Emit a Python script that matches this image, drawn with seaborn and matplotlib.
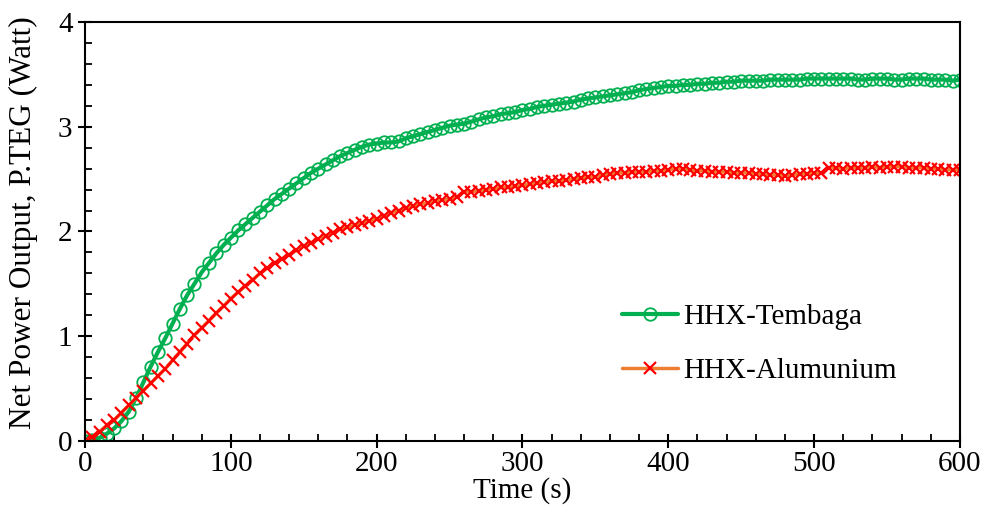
import matplotlib
matplotlib.use("Agg")
import matplotlib.pyplot as plt
import seaborn as sns
import pandas as pd
from matplotlib.ticker import MultipleLocator

# -----------------------------
# data
# -----------------------------
time_s = [
    0, 5, 10, 15, 20, 25, 30, 35, 40, 45, 50, 55, 60, 65, 70, 75, 80, 85, 90, 95,
    100, 105, 110, 115, 120, 125, 130, 135, 140, 145, 150, 155, 160, 165, 170, 175, 180, 185, 190, 195,
    200, 205, 210, 215, 220, 225, 230, 235, 240, 245, 250, 255, 260, 265, 270, 275, 280, 285, 290, 295,
    300, 305, 310, 315, 320, 325, 330, 335, 340, 345, 350, 355, 360, 365, 370, 375, 380, 385, 390, 395,
    400, 405, 410, 415, 420, 425, 430, 435, 440, 445, 450, 455, 460, 465, 470, 475, 480, 485, 490, 495,
    500, 505, 510, 515, 520, 525, 530, 535, 540, 545, 550, 555, 560, 565, 570, 575, 580, 585, 590, 595,
    600,
]

tembaga = [
    0.00, 0.01, 0.03, 0.07, 0.12, 0.19, 0.28, 0.41, 0.56, 0.71, 0.85, 0.98, 1.12, 1.26, 1.39, 1.50, 1.61, 1.70, 1.79, 1.87,
    1.94, 2.01, 2.07, 2.13, 2.19, 2.25, 2.31, 2.36, 2.41, 2.46, 2.51, 2.56, 2.60, 2.64, 2.68, 2.72, 2.75, 2.78, 2.81, 2.83,
    2.84, 2.85, 2.85, 2.86, 2.89, 2.91, 2.93, 2.95, 2.97, 2.99, 3.01, 3.02, 3.03, 3.05, 3.07, 3.09, 3.10, 3.12, 3.13, 3.14,
    3.16, 3.17, 3.19, 3.20, 3.21, 3.22, 3.23, 3.24, 3.26, 3.27, 3.28, 3.29, 3.30, 3.31, 3.32, 3.33, 3.35, 3.36, 3.37, 3.38,
    3.39, 3.39, 3.40, 3.40, 3.41, 3.41, 3.42, 3.42, 3.43, 3.43, 3.44, 3.44, 3.44, 3.44, 3.45, 3.45, 3.45, 3.45, 3.45, 3.46,
    3.46, 3.46, 3.46, 3.46, 3.46, 3.46, 3.45, 3.45, 3.46, 3.46, 3.46, 3.45, 3.45, 3.46, 3.46, 3.46, 3.45, 3.45, 3.45, 3.44,
    3.45,
]

alumunium = [
    0.00, 0.04, 0.09, 0.15, 0.20, 0.27, 0.34, 0.41, 0.48, 0.55, 0.62, 0.69, 0.77, 0.85, 0.93, 1.01, 1.08, 1.15, 1.22, 1.29,
    1.36, 1.42, 1.48, 1.54, 1.60, 1.65, 1.70, 1.74, 1.78, 1.82, 1.86, 1.89, 1.93, 1.96, 1.99, 2.02, 2.04, 2.06, 2.08, 2.10,
    2.12, 2.15, 2.18, 2.20, 2.22, 2.24, 2.26, 2.27, 2.29, 2.30, 2.31, 2.33, 2.38, 2.38, 2.39, 2.40, 2.41, 2.42, 2.42, 2.43,
    2.44, 2.45, 2.46, 2.47, 2.48, 2.48, 2.49, 2.50, 2.51, 2.52, 2.52, 2.54, 2.55, 2.56, 2.56, 2.57, 2.57, 2.57, 2.58, 2.58,
    2.59, 2.60, 2.60, 2.59, 2.58, 2.58, 2.57, 2.57, 2.57, 2.56, 2.56, 2.56, 2.55, 2.55, 2.54, 2.54, 2.53, 2.54, 2.55, 2.55,
    2.56, 2.56, 2.61, 2.61, 2.60, 2.61, 2.61, 2.61, 2.62, 2.61, 2.62, 2.62, 2.62, 2.61, 2.61, 2.61, 2.60, 2.60, 2.59, 2.59,
    2.59,
]

x_ticks = [0, 100, 200, 300, 400, 500, 600]
y_ticks = [0, 1, 2, 3, 4]

df = pd.DataFrame({"Time": time_s, "HHX-Tembaga": tembaga, "HHX-Alumunium": alumunium})

# -----------------------------
# style
# -----------------------------
sns.set_style("ticks")
plt.rcParams["font.family"] = ["Liberation Serif", "DejaVu Serif"]
plt.rcParams["font.size"] = 21
plt.rcParams["text.color"] = "black"
plt.rcParams["axes.labelcolor"] = "black"
plt.rcParams["xtick.color"] = "black"
plt.rcParams["ytick.color"] = "black"

fig = plt.figure(figsize=(9.85, 5.26), dpi=100)
ax = fig.add_axes([0.0863, 0.1616, 0.8883, 0.7966])

sns.lineplot(data=df, x="Time", y="HHX-Tembaga", ax=ax, color="#00B050",
             linewidth=3, marker="o", markersize=9, markerfacecolor="none",
             markeredgecolor="#00B050", markeredgewidth=1.3, label="HHX-Tembaga")
sns.lineplot(data=df, x="Time", y="HHX-Alumunium", ax=ax, color="#ED7D31",
             linewidth=2.5, marker="x", markersize=9, markeredgecolor="#FF0000",
             markeredgewidth=1.6, label="HHX-Alumunium")

ax.set_xlim(0, 600)
ax.set_ylim(0, 4)
ax.set_xticks(x_ticks)
ax.set_yticks(y_ticks)
ax.xaxis.set_minor_locator(MultipleLocator(20))
ax.yaxis.set_minor_locator(MultipleLocator(0.2))
ax.tick_params(which="major", direction="inout", length=10, width=1.5, labelsize=21, pad=4)
ax.tick_params(which="minor", direction="in", length=5, width=1.3)
ax.tick_params(axis="x", which="major", pad=2)

for side in ["left", "bottom", "right", "top"]:
    ax.spines[side].set_visible(True)
    ax.spines[side].set_linewidth(1.5)
    ax.spines[side].set_color("black")

ax.set_xlabel("Time (s)", fontsize=21, labelpad=0)
ax.set_ylabel("Net Power Output, P.TEG (Watt)", fontsize=22.5)
ax.yaxis.set_label_coords(-0.054, 0.521)

ax.legend(loc="center left", bbox_to_anchor=(0.614, 0.232), frameon=False,
          fontsize=21, handlelength=1.9, handletextpad=0.2, labelspacing=0.95,
          borderpad=0, borderaxespad=0)

fig.savefig("out.png", dpi=100)
plt.close(fig)
